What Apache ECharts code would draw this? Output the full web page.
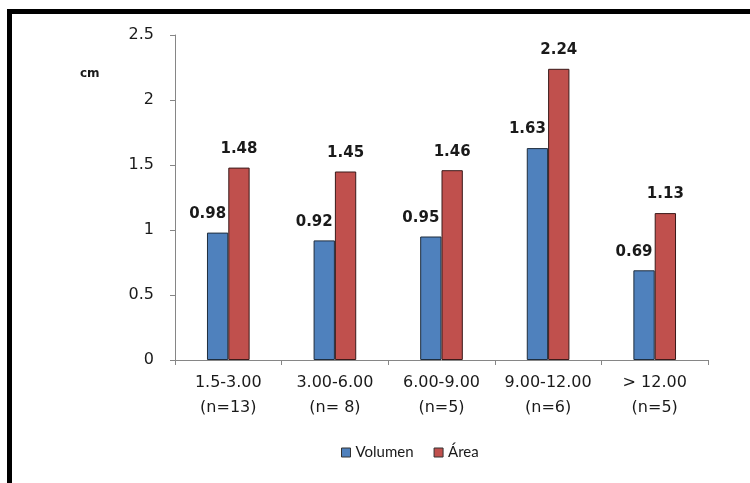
<!DOCTYPE html>
<html>
<head>
<meta charset="utf-8">
<script src="https://cdn.jsdelivr.net/npm/echarts@6/dist/echarts.min.js"></script>
<style>
  html, body { margin: 0; padding: 0; background: #fff; }
  #chart { width: 750px; height: 483px; }
</style>
</head>
<body>
<div id="chart"></div>
<script>
// Size classes and their sample counts
const categories = ['1.5-3.00\n(n=13)', '3.00-6.00\n(n= 8)', '6.00-9.00\n(n=5)', '9.00-12.00\n(n=6)', '> 12.00\n(n=5)'];
// Mean values per class (cm)
const volumen = [0.98, 0.92, 0.95, 1.63, 0.69];
const area = [1.48, 1.45, 1.46, 2.24, 1.13];
const seriesNames = ['Volumen', 'Área'];
const yTicks = { min: 0, max: 2.5, interval: 0.5 };

const font = '"DejaVu Sans", sans-serif';
const legendFont = 'Lato, sans-serif';
const chart = echarts.init(document.getElementById('chart'));

function valueLabel(offsetX) {
  return {
    show: true,
    position: 'top',
    distance: 11,
    offset: [offsetX, 0],
    fontFamily: font,
    fontWeight: 'bold',
    fontSize: 15,
    color: '#1a1a1a',
    formatter: p => p.value.toFixed(2)
  };
}

chart.setOption({
  animation: false,
  grid: { left: 175, right: 42, top: 35, bottom: 123 },
  legend: {
    bottom: 18,
    left: 336,
    itemWidth: 9,
    itemHeight: 9,
    itemGap: 20,
    icon: 'rect',
    itemStyle: { borderColor: '#333', borderWidth: 1 },
    textStyle: { fontFamily: legendFont, fontSize: 15, color: '#1a1a1a' },
    data: seriesNames
  },
  xAxis: {
    type: 'category',
    data: categories,
    axisLine: { lineStyle: { color: '#868686' } },
    axisTick: { show: true, alignWithLabel: false, length: 5, lineStyle: { color: '#868686' } },
    axisLabel: { fontFamily: font, fontSize: 16, color: '#1a1a1a', lineHeight: 25, margin: 10, interval: 0 }
  },
  yAxis: {
    type: 'value',
    min: yTicks.min,
    max: yTicks.max,
    interval: yTicks.interval,
    splitLine: { show: false },
    axisLine: { show: true, lineStyle: { color: '#868686' } },
    axisTick: { show: true, length: 5, lineStyle: { color: '#868686' } },
    axisLabel: { fontFamily: font, fontSize: 16, color: '#1a1a1a', margin: 21 }
  },
  series: [
    {
      name: seriesNames[0],
      type: 'bar',
      data: volumen,
      barGap: '0%',
      barCategoryGap: '60%',
      itemStyle: { color: '#4F81BD', borderColor: '#1f2d3d', borderWidth: 1 },
      label: valueLabel(-10)
    },
    {
      name: seriesNames[1],
      type: 'bar',
      data: area,
      itemStyle: { color: '#C0504D', borderColor: '#3a1a1a', borderWidth: 1 },
      label: valueLabel(0)
    }
  ],
  graphic: [
    { type: 'rect', shape: { x: 7, y: 9, width: 750, height: 5 }, style: { fill: '#000' } },
    { type: 'rect', shape: { x: 7, y: 9, width: 5, height: 480 }, style: { fill: '#000' } },
    { type: 'text', left: 80, top: 68, style: { text: 'cm', fontFamily: font, fontWeight: 'bold', fontSize: 12, fill: '#1a1a1a' } }
  ]
});
</script>
</body>
</html>
